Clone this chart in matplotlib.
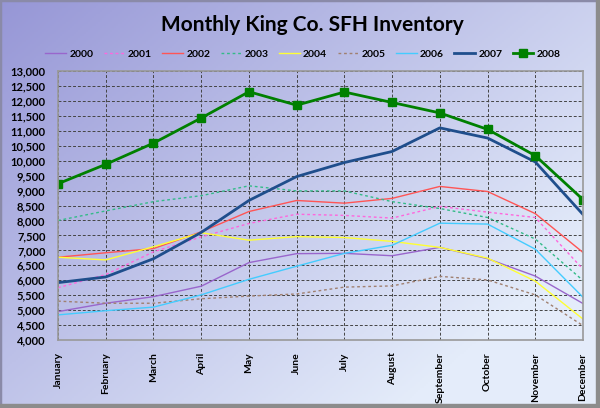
import matplotlib
matplotlib.use("Agg")
import matplotlib.pyplot as plt
import numpy as np
from matplotlib.patches import Rectangle
from matplotlib.ticker import FuncFormatter

months = ["January", "February", "March", "April", "May", "June",
          "July", "August", "September", "October", "November", "December"]

y2000 = [4950, 5230, 5450, 5800, 6590, 6890, 6900, 6820, 7100, 6720, 6140, 5220]
y2001 = [5750, 6190, 6950, 7450, 7900, 8210, 8170, 8080, 8470, 8280, 8100, 6370]
y2002 = [6770, 6920, 7060, 7620, 8300, 8670, 8580, 8740, 9140, 8970, 8230, 6930]
y2003 = [8000, 8320, 8630, 8830, 9160, 8990, 8990, 8630, 8400, 8100, 7380, 5990]
y2004 = [6770, 6680, 7120, 7590, 7340, 7460, 7430, 7300, 7100, 6740, 5970, 4700]
y2005 = [5300, 5230, 5230, 5380, 5470, 5540, 5770, 5810, 6130, 6010, 5510, 4480]
y2006 = [4840, 4980, 5100, 5510, 6030, 6470, 6900, 7170, 7910, 7880, 7040, 5430]
y2007 = [5920, 6110, 6720, 7600, 8670, 9470, 9940, 10310, 11100, 10760, 9960, 8200]
y2008 = [9230, 9880, 10590, 11430, 12310, 11860, 12300, 11950, 11600, 11050, 10170, 8700]

series = [
    ("2000", y2000, "#9966cc", "-", 1.0),
    ("2001", y2001, "#ff66dd", (0, (2, 2)), 1.0),
    ("2002", y2002, "#ff5555", "-", 1.0),
    ("2003", y2003, "#33bb88", (0, (2, 2)), 1.0),
    ("2004", y2004, "#ffff33", "-", 1.0),
    ("2005", y2005, "#a08070", (0, (2, 2)), 1.0),
    ("2006", y2006, "#44ccff", "-", 1.0),
    ("2007", y2007, "#1f4e8c", "-", 2.0),
]

fig = plt.figure(figsize=(6, 4.08), dpi=100)

# gradient background
bg = fig.add_axes([0, 0, 1, 1], zorder=-10)
gx, gy = np.meshgrid(np.linspace(0, 1, 300), np.linspace(0, 1, 204))
t = np.clip((gx * 0.75 + gy * 0.6) / 1.1, 0, 1)
c0 = np.array([150, 150, 214]) / 255
c1 = np.array([228, 236, 250]) / 255
img = c0[None, None, :] * (1 - t[..., None]) + c1[None, None, :] * t[..., None]
bg.imshow(img, extent=[0, 1, 0, 1], aspect="auto", origin="upper")
bg.set_xlim(0, 1)
bg.set_ylim(0, 1)
bg.axis("off")
# frame
bg.add_patch(Rectangle((0, 0), 1, 1, fill=False, ec="#8a8aa8", lw=2.5, transform=bg.transAxes))
bg.add_patch(Rectangle((0.993, 0), 0.007, 1, color="#8c8c8c", transform=bg.transAxes))
bg.add_patch(Rectangle((0, 0), 1, 0.01, color="#8c8c8c", transform=bg.transAxes))

ax = fig.add_axes([0.0967, 0.1667, 0.875, 0.659])
ax.patch.set_alpha(0)
x = np.arange(len(months))
for name, vals, col, ls, lw in series:
    ax.plot(x, vals, color=col, ls=ls, lw=lw, label=name)
ax.plot(x, y2008, color="#008000", lw=2.0, marker="s", ms=6, label="2008")

ax.set_xlim(0, 11)
ax.set_ylim(4000, 13000)
ax.set_yticks(np.arange(4000, 13001, 500))
ax.yaxis.set_major_formatter(FuncFormatter(lambda v, p: f"{int(v):,}"))
ax.set_xticks(x)
ax.set_xticklabels(months, rotation=90, fontweight="bold", fontsize=7.5, family="Lato")
for lbl in ax.get_yticklabels():
    lbl.set_fontweight("bold")
    lbl.set_fontsize(8)
    lbl.set_family("Lato")
ax.tick_params(axis="x", length=0, pad=9)
ax.tick_params(axis="y", length=0, pad=9)
ax.grid(True, color="#444444", ls=(0, (3, 2)), lw=0.7)
for s in ax.spines.values():
    s.set_color("#999999")
    s.set_linewidth(1.2)

fig.text(0.52, 0.938, "Monthly King Co. SFH Inventory", ha="center", va="center",
         fontsize=15, fontweight="bold", family="Lato")
fig.legend(loc="center", bbox_to_anchor=(0.505, 0.867), ncol=9, frameon=False,
           prop={"family": "Lato", "weight": "bold", "size": 7.5},
           handlelength=2.0, columnspacing=1.0, handletextpad=0.3)

fig.savefig("out.png", dpi=100)
